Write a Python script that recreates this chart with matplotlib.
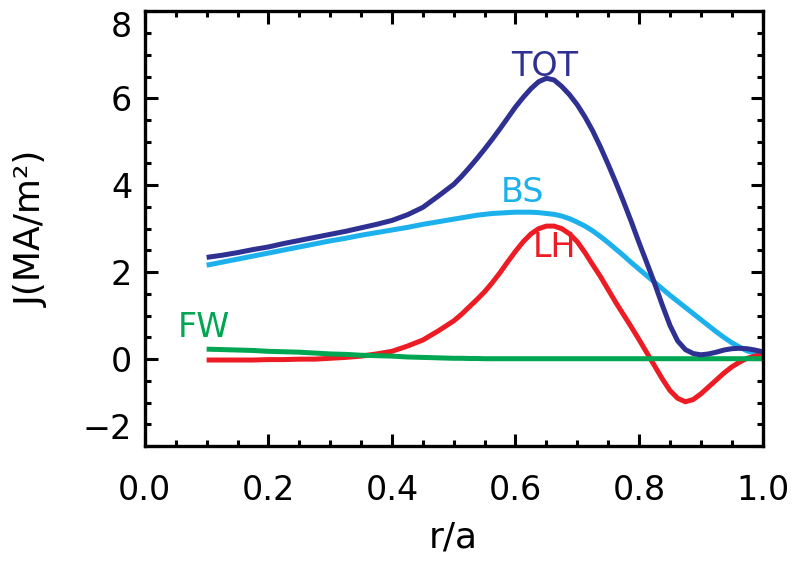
import matplotlib
matplotlib.use("Agg")
import matplotlib.pyplot as plt
from matplotlib.ticker import MultipleLocator

# r/a grid shared by all profiles (finer where the curves bend)
r = [0.100, 0.125, 0.150, 0.175, 0.200, 0.225, 0.250, 0.275, 0.300, 0.325,
     0.350, 0.375, 0.400, 0.425, 0.450, 0.475, 0.500,
     0.5125, 0.525, 0.5375, 0.550, 0.5625, 0.575, 0.5875, 0.600,
     0.6125, 0.625, 0.6375, 0.650, 0.6625, 0.675, 0.6875, 0.700,
     0.7125, 0.725, 0.7375, 0.750, 0.7625, 0.775, 0.7875, 0.800,
     0.8125, 0.825, 0.8375, 0.850, 0.8625, 0.875, 0.8875, 0.900,
     0.9125, 0.925, 0.9375, 0.950, 0.9625, 0.975, 0.9875, 1.000]

j_tot = [2.34, 2.39, 2.45, 2.52, 2.58, 2.66, 2.73, 2.80, 2.87, 2.94,
         3.02, 3.10, 3.19, 3.32, 3.49, 3.75, 4.02,
         4.20, 4.40, 4.61, 4.83, 5.06, 5.30, 5.55, 5.80,
         6.02, 6.22, 6.38, 6.46, 6.42, 6.27, 6.08, 5.85,
         5.57, 5.25, 4.88, 4.48, 4.06, 3.62, 3.16, 2.68,
         2.22, 1.75, 1.25, 0.78, 0.42, 0.22, 0.13, 0.10,
         0.12, 0.16, 0.21, 0.24, 0.25, 0.24, 0.21, 0.17]

j_bs = [2.16, 2.23, 2.30, 2.37, 2.44, 2.51, 2.58, 2.65, 2.72, 2.78,
        2.85, 2.91, 2.97, 3.03, 3.10, 3.16, 3.22,
        3.25, 3.28, 3.31, 3.33, 3.35, 3.36, 3.37, 3.38,
        3.38, 3.38, 3.37, 3.35, 3.33, 3.29, 3.23, 3.15,
        3.06, 2.95, 2.82, 2.68, 2.53, 2.38, 2.22, 2.07,
        1.92, 1.77, 1.62, 1.47, 1.33, 1.19, 1.05, 0.91,
        0.77, 0.63, 0.50, 0.38, 0.28, 0.19, 0.14, 0.12]

j_lh = [-0.02, -0.02, -0.02, -0.02, -0.01, -0.01, 0.00, 0.00, 0.02, 0.04,
        0.07, 0.12, 0.18, 0.30, 0.44, 0.65, 0.88,
        1.03, 1.20, 1.37, 1.55, 1.76, 1.99, 2.24, 2.48,
        2.70, 2.88, 3.00, 3.06, 3.06, 3.00, 2.88, 2.70,
        2.45, 2.17, 1.90, 1.60, 1.30, 1.02, 0.74, 0.45,
        0.15, -0.15, -0.45, -0.72, -0.90, -0.98, -0.93, -0.80,
        -0.64, -0.48, -0.32, -0.18, -0.07, 0.02, 0.07, 0.10]

j_fw = [0.23, 0.22, 0.21, 0.20, 0.18, 0.17, 0.16, 0.14, 0.12, 0.11,
        0.09, 0.08, 0.07, 0.05, 0.04, 0.03, 0.02,
        0.02, 0.015, 0.015, 0.01, 0.01, 0.01, 0.01, 0.01,
        0.01, 0.01, 0.01, 0.01, 0.01, 0.01, 0.01, 0.01,
        0.01, 0.01, 0.01, 0.01, 0.01, 0.01, 0.01, 0.01,
        0.01, 0.01, 0.01, 0.01, 0.01, 0.01, 0.01, 0.01,
        0.01, 0.01, 0.01, 0.01, 0.01, 0.01, 0.01, 0.01]

labels = ["TOT", "BS", "LH", "FW"]
label_pos = [(0.647, 6.72), (0.612, 3.83), (0.663, 2.57), (0.095, 0.72)]
colors = ["#2E3192", "#1CB0EC", "#ED1C24", "#00A651"]

y_ticks = [-2, 0, 2, 4, 6, 8]


def main():
    fig = plt.figure(figsize=(7.96, 5.64), dpi=100)
    ax = fig.add_axes([0.182, 0.209, 0.776, 0.771])

    # draw order: BS, LH, FW, then TOT on top
    line_kw = dict(lw=3.6, solid_capstyle="butt", solid_joinstyle="round")
    ax.plot(r, j_bs, color=colors[1], **line_kw)
    ax.plot(r, j_lh, color=colors[2], **line_kw)
    ax.plot(r, j_fw, color=colors[3], **line_kw)
    ax.plot(r, j_tot, color=colors[0], **line_kw)

    for text, (x, y), c in zip(labels, label_pos, colors):
        ax.text(x, y, text, color=c, fontsize=24, ha="center", va="center")

    ax.set_xlim(0.0, 1.0)
    ax.set_ylim(-2, 8)
    ax.xaxis.set_major_locator(MultipleLocator(0.2))
    ax.xaxis.set_minor_locator(MultipleLocator(0.05))
    ax.yaxis.set_minor_locator(MultipleLocator(0.5))
    ax.set_xticklabels([f"{v:.1f}" for v in ax.get_xticks()])

    # end labels (-2 and 8) are pulled inside the axis range, as in the original
    ax.set_yticks(y_ticks)
    ax.set_yticklabels(["" if v in (y_ticks[0], y_ticks[-1]) else str(v) for v in y_ticks])
    trans = ax.get_yaxis_transform()
    ax.text(-0.021, y_ticks[-1], str(y_ticks[-1]), transform=trans,
            ha="right", va="top", fontsize=24)
    ax.text(-0.021, y_ticks[0], f"\u2212{abs(y_ticks[0])}", transform=trans,
            ha="right", va="bottom", fontsize=24)

    ax.tick_params(which="both", direction="in", top=True, right=True, width=2.2)
    ax.tick_params(which="major", length=9, labelsize=24)
    ax.tick_params(axis="x", which="major", pad=20)
    ax.tick_params(axis="y", which="major", pad=9)
    ax.tick_params(which="minor", length=4.5)
    for s in ax.spines.values():
        s.set_linewidth(2.4)

    ax.set_xlabel("r/a", fontsize=26)
    ax.set_ylabel("J(MA/m²)", fontsize=26)
    ax.xaxis.set_label_coords(0.5, -0.17)
    ax.yaxis.set_label_coords(-0.155, 0.5)

    fig.savefig("out.png", dpi=100)


if __name__ == "__main__":
    main()
